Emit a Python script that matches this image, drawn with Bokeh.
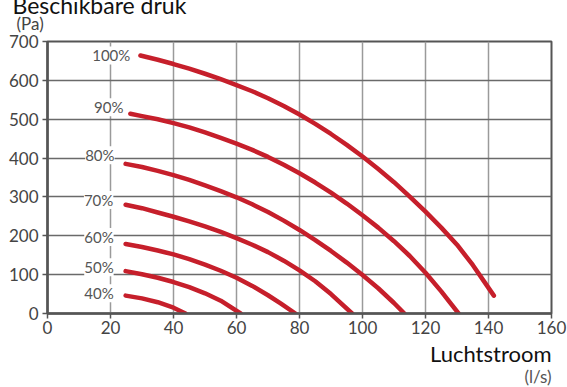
from bokeh.plotting import figure
from bokeh.models import Range1d, Label, FixedTicker, ColumnDataSource, Title
from bokeh.embed import file_html
from bokeh.resources import INLINE

# Fan curves: airflow (l/s) vs available pressure (Pa)
x100 = [29.5, 35, 40, 45, 50, 55, 60, 65, 70, 75, 80, 85, 90, 95, 100, 105, 110, 115, 120, 125, 130, 135, 140, 141.7]
y100 = [664, 653, 642, 630, 617, 603, 588, 572, 554, 534, 512, 488, 462, 434, 404, 372, 338, 301, 262, 221, 177, 125, 66, 46]
x90 = [26.3, 30, 35, 40, 45, 50, 55, 60, 65, 70, 75, 80, 85, 90, 95, 100, 105, 110, 115, 120, 125, 130.5]
y90 = [514, 508, 500, 490, 479, 466, 452, 437, 421, 403, 383, 361, 337, 311, 283, 253, 221, 186, 148, 105, 57, 0]
x80 = [24.8, 30, 35, 40, 45, 50, 55, 60, 65, 70, 75, 80, 85, 90, 95, 100, 105, 110, 113.3]
y80 = [385, 377, 367, 356, 344, 330, 315, 299, 281, 261, 239, 215, 189, 161, 131, 99, 65, 27, 0]
x70 = [24.8, 30, 35, 40, 45, 50, 55, 60, 65, 70, 75, 80, 85, 90, 96.7]
y70 = [280, 271, 260, 249, 237, 224, 210, 194, 177, 158, 136, 111, 83, 50, 0]
x60 = [24.8, 30, 35, 40, 45, 50, 55, 60, 65, 70, 74, 78.7]
y60 = [179, 171, 162, 152, 140, 126, 110, 92, 71, 47, 26, 0]
x50 = [24.8, 30, 35, 40, 45, 50, 55, 61.3]
y50 = [109, 101, 92, 81, 68, 52, 33, 0]
x40 = [24.8, 30, 35, 40, 43.8]
y40 = [46, 39, 29, 15, 0]

curve_names = ["100%", "90%", "80%", "70%", "60%", "50%", "40%"]
curves_x = [x100, x90, x80, x70, x60, x50, x40]
curves_y = [y100, y90, y80, y70, y60, y50, y40]

# label anchors (right edge of text, data coords)
label_x = [26.3, 24.1, 21.3, 20.9, 21.0, 21.0, 21.0]
label_y = [664, 531, 407, 292, 197, 119, 52]

x_ticks = [0, 20, 40, 60, 80, 100, 120, 140, 160]
y_ticks = [0, 100, 200, 300, 400, 500, 600, 700]

FONT = "Lato"
RED = "#c61f2b"

p = figure(width=567, height=387, output_backend="svg", toolbar_location=None,
           x_range=Range1d(0, 160), y_range=Range1d(0, 700),
           min_border_left=47, min_border_right=16, min_border_top=41, min_border_bottom=74)
p.background_fill_color = "white"
p.border_fill_color = "white"
p.outline_line_color = "#555555"
p.outline_line_width = 2

p.xaxis.ticker = FixedTicker(ticks=x_ticks)
p.yaxis.ticker = FixedTicker(ticks=y_ticks)
p.xgrid.ticker = FixedTicker(ticks=x_ticks)
p.ygrid.ticker = FixedTicker(ticks=y_ticks)
p.xgrid.grid_line_color = "#9a9a9a"
p.xgrid.grid_line_width = 1.5
p.ygrid.grid_line_color = "#6a6a6a"
p.ygrid.grid_line_width = 1.3

for ax in (p.xaxis[0], p.yaxis[0]):
    ax.axis_line_color = "#555555"
    ax.axis_line_width = 2.5
    ax.major_tick_line_color = "#555555"
    ax.major_tick_line_width = 1.5
    ax.major_tick_out = 5
    ax.major_tick_in = 0
    ax.minor_tick_line_color = None
    ax.major_label_text_font = FONT
    ax.major_label_text_font_size = "17px"
    ax.major_label_text_color = "#444444"
p.xaxis.major_label_standoff = 2
p.yaxis.major_label_standoff = 4

for cx, cy in zip(curves_x, curves_y):
    src = ColumnDataSource(data=dict(x=cx, y=cy))
    p.line("x", "y", source=src, line_color=RED, line_width=4.5, line_cap="round", line_join="round")

for name, lx, ly in zip(curve_names, label_x, label_y):
    p.add_layout(Label(x=lx, y=ly, text=name, text_align="right", text_baseline="middle",
                       text_font=FONT, text_font_size="15px", text_color="#555555",
                       background_fill_color="white", background_fill_alpha=1.0))

# titles above (first added sits closest to the frame)
p.add_layout(Title(text="(Pa)", align="left", vertical_align="top", offset=-31, standoff=10.5,
                   text_font=FONT, text_font_size="17px", text_font_style="normal",
                   text_color="#444444"), "above")
p.add_layout(Title(text="Beschikbare druk", align="left", vertical_align="top", offset=-35,
                   standoff=-26, text_font=FONT, text_font_size="23px",
                   text_font_style="normal", text_color="#111111"), "above")
# titles below (first added sits closest to the frame)
p.add_layout(Title(text="Luchtstroom", align="right", vertical_align="top", offset=0, standoff=7,
                   text_font=FONT, text_font_size="22px", text_font_style="normal",
                   text_color="#111111"), "below")
p.add_layout(Title(text="(l/s)", align="right", vertical_align="top", offset=0, standoff=-13,
                   text_font=FONT, text_font_size="17px", text_font_style="normal",
                   text_color="#555555"), "below")

open("out.html", "w").write(file_html(p, INLINE))
